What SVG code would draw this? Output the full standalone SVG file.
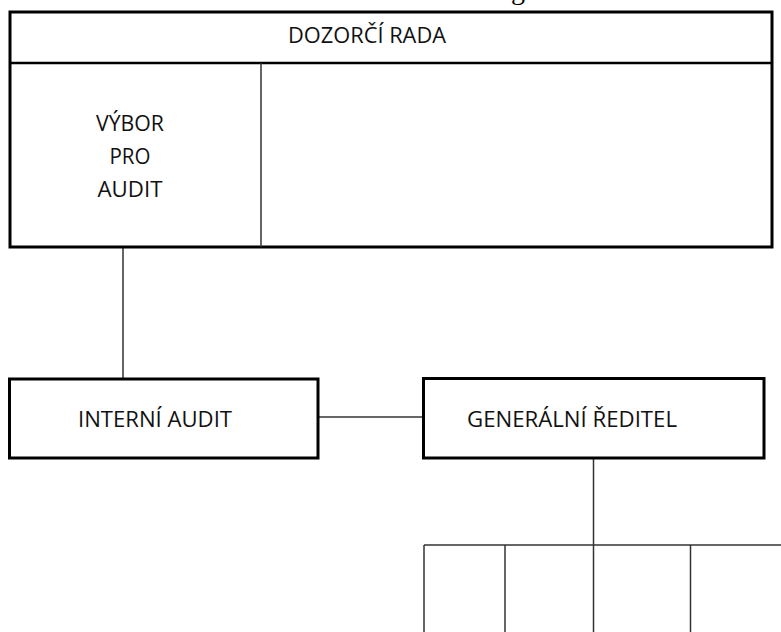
<svg xmlns="http://www.w3.org/2000/svg" width="781" height="632" viewBox="0 0 781 632">
<style>
.box{fill:#fff;stroke:#000;stroke-width:3}
.thin{fill:none;stroke:#333;stroke-width:1.5}
.t{font-family:"Open Sans","Liberation Sans",sans-serif;font-size:22px;fill:#111}
</style>
<rect width="781" height="632" fill="#fff"/>
<text x="511" y="-1" font-family="Liberation Serif,serif" font-size="28" fill="#000">g</text>
<g id="connectors">
<line class="thin" x1="123" y1="247" x2="123" y2="379"/>
<line class="thin" x1="318" y1="417" x2="423" y2="417"/>
<line class="thin" x1="593.5" y1="458" x2="593.5" y2="545"/>
<line class="thin" x1="424" y1="545" x2="781" y2="545"/>
<line class="thin" x1="424" y1="545" x2="424" y2="632"/>
<line class="thin" x1="505" y1="545" x2="505" y2="632"/>
<line class="thin" x1="593.5" y1="545" x2="593.5" y2="632"/>
<line class="thin" x1="690.5" y1="545" x2="690.5" y2="632"/>
</g>
<g id="dozorci-rada">
<rect class="box" x="10" y="12" width="762" height="235"/>
<line x1="10" y1="63" x2="772" y2="63" stroke="#000" stroke-width="2.5"/>
<text class="t" x="288" y="43" textLength="158" lengthAdjust="spacingAndGlyphs">DOZORČÍ RADA</text>
</g>
<g id="vybor-pro-audit">
<line class="thin" x1="261" y1="63" x2="261" y2="247"/>
<text class="t" x="130" y="130.5" text-anchor="middle" textLength="68" lengthAdjust="spacingAndGlyphs">VÝBOR</text>
<text class="t" x="130" y="164" text-anchor="middle" textLength="41" lengthAdjust="spacingAndGlyphs">PRO</text>
<text class="t" x="130" y="197" text-anchor="middle" textLength="65" lengthAdjust="spacingAndGlyphs">AUDIT</text>
</g>
<g id="interni-audit">
<rect class="box" x="9.5" y="379" width="308.5" height="79"/>
<text class="t" x="78" y="427" textLength="154" lengthAdjust="spacingAndGlyphs">INTERNÍ AUDIT</text>
</g>
<g id="generalni-reditel">
<rect class="box" x="423.5" y="378.5" width="340.5" height="79.5"/>
<text class="t" x="467" y="427" textLength="210" lengthAdjust="spacingAndGlyphs">GENERÁLNÍ ŘEDITEL</text>
</g>
</svg>
